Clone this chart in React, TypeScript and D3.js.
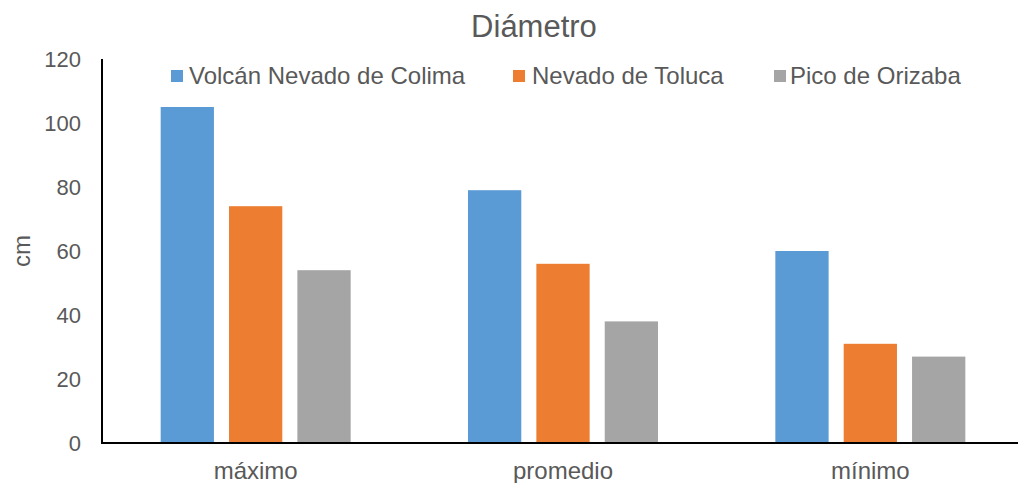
import React from "react";
import * as d3 from "d3";

const categories = ["máximo", "promedio", "mínimo"];
const seriesNames = ["Volcán Nevado de Colima", "Nevado de Toluca", "Pico de Orizaba"];
const colima = [105, 79, 60];
const toluca = [74, 56, 31];
const orizaba = [54, 38, 27];
const yTicks = [0, 20, 40, 60, 80, 100, 120];

const colors = ["#5B9BD5", "#ED7D31", "#A5A5A5"];
const seriesValues = [colima, toluca, orizaba];

const W = 1018;
const H = 483;
const left = 102;
const bandRight = 1024;
const axisRight = 1018;
const top = 59;
const bottom = 443;
const font = "'Liberation Sans', Arial, sans-serif";
const textColor = "#595959";

export default function App() {
  const y = d3.scaleLinear().domain([0, 120]).range([bottom, top]);
  const x0 = d3.scaleBand<string>().domain(categories).range([left, bandRight]).padding(0);
  const groupW = 190;

  const legendItems = [
    { mx: 171, tx: 189 },
    { mx: 513, tx: 532 },
    { mx: 774, tx: 790 },
  ];

  return (
    <svg
      width={W}
      height={H}
      style={{ position: "fixed", left: 0, top: 0, background: "#fff" }}
      fontFamily={font}
    >
      <text x={534} y={37} textAnchor="middle" fontSize={31} fill={textColor}>
        Diámetro
      </text>

      {/* bars */}
      {categories.map((c, ci) => {
        const center = (x0(c) as number) + x0.bandwidth() / 2;
        const x1 = d3
          .scaleBand<number>()
          .domain([0, 1, 2])
          .range([center - groupW / 2, center + groupW / 2])
          .paddingInner(15 / 68)
          .paddingOuter(0);
        return (
          <g key={c}>
            {seriesValues.map((vals, si) => (
              <rect
                key={si}
                x={x1(si)}
                y={y(vals[ci])}
                width={x1.bandwidth()}
                height={bottom - y(vals[ci])}
                fill={colors[si]}
              />
            ))}
            <text
              x={center}
              y={479}
              textAnchor="middle"
              fontSize={24}
              fill={textColor}
            >
              {c}
            </text>
          </g>
        );
      })}

      {/* axes */}
      <line x1={left} x2={left} y1={top} y2={bottom} stroke="#000" strokeWidth={2} />
      <line x1={left - 1} x2={axisRight} y1={bottom} y2={bottom} stroke="#000" strokeWidth={2} />
      {yTicks.map((t) => (
        <text
          key={t}
          x={81}
          y={y(t) + 8}
          textAnchor="end"
          fontSize={22}
          fill={textColor}
        >
          {t}
        </text>
      ))}
      <text
        transform={`translate(30,251) rotate(-90)`}
        textAnchor="middle"
        fontSize={24}
        fill={textColor}
      >
        cm
      </text>

      {/* legend */}
      {seriesNames.map((name, i) => (
        <g key={name}>
          <rect x={legendItems[i].mx} y={70} width={12} height={12} fill={colors[i]} />
          <text x={legendItems[i].tx} y={84} fontSize={24} fill={textColor}>
            {name}
          </text>
        </g>
      ))}
    </svg>
  );
}
